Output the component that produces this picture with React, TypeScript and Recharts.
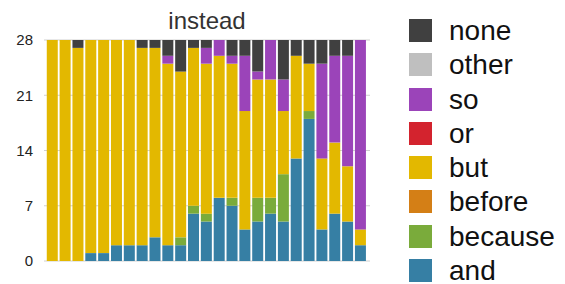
import { BarChart, Bar, XAxis, YAxis, CartesianGrid } from "recharts";

const categories = Array.from({ length: 25 }, (_, i) => `${i + 1}`);

const andVals = [0, 0, 0, 1, 1, 2, 2, 2, 3, 2, 2, 6, 5, 8, 7, 4, 5, 6, 5, 13, 18, 4, 6, 5, 2];
const becauseVals = [0, 0, 0, 0, 0, 0, 0, 0, 0, 0, 1, 1, 1, 0, 1, 0, 3, 2, 6, 0, 1, 0, 0, 0, 0];
const beforeVals = [0, 0, 0, 0, 0, 0, 0, 0, 0, 0, 0, 0, 0, 0, 0, 0, 0, 0, 0, 0, 0, 0, 0, 0, 0];
const butVals = [28, 28, 27, 27, 27, 26, 26, 25, 24, 23, 21, 20, 19, 18, 17, 15, 15, 15, 8, 13, 6, 9, 9, 7, 2];
const orVals = [0, 0, 0, 0, 0, 0, 0, 0, 0, 0, 0, 0, 0, 0, 0, 0, 0, 0, 0, 0, 0, 0, 0, 0, 0];
const soVals = [0, 0, 0, 0, 0, 0, 0, 0, 0, 1, 0, 0, 2, 2, 1, 7, 1, 5, 4, 0, 0, 12, 11, 14, 24];
const otherVals = [0, 0, 0, 0, 0, 0, 0, 0, 0, 0, 0, 0, 0, 0, 0, 0, 0, 0, 0, 0, 0, 0, 0, 0, 0];
const noneVals = [0, 0, 1, 0, 0, 0, 0, 1, 1, 2, 4, 1, 1, 0, 2, 2, 4, 0, 5, 2, 3, 3, 2, 2, 0];

const yTicks = [0, 7, 14, 21, 28];

// bottom to top of each stack
const series = [
  { key: "and", color: "#367fa4", values: andVals },
  { key: "because", color: "#7aab3b", values: becauseVals },
  { key: "before", color: "#d47f16", values: beforeVals },
  { key: "but", color: "#e3b800", values: butVals },
  { key: "or", color: "#d3232e", values: orVals },
  { key: "so", color: "#9b44b9", values: soVals },
  { key: "other", color: "#bfbfbf", values: otherVals },
  { key: "none", color: "#404040", values: noneVals },
];

const data = categories.map((name, i) => {
  const row: Record<string, string | number> = { name };
  series.forEach((s) => (row[s.key] = s.values[i]));
  return row;
});

const font = "'Liberation Sans', Arial, Helvetica, sans-serif";

function LegendBox() {
  const items = [...series].reverse();
  return (
    <div style={{ position: "absolute", left: 409, top: 19, fontFamily: font }}>
      {items.map((s) => (
        <div key={s.key} style={{ display: "flex", height: 34.3 }}>
          <div style={{ width: 23, height: 23, background: s.color, marginRight: 17 }} />
          <span style={{ fontSize: 28, color: "#111", lineHeight: "24px" }}>{s.key}</span>
        </div>
      ))}
    </div>
  );
}

export default function App() {
  return (
    <div style={{ position: "absolute", left: 0, top: 0, width: 565, height: 284, background: "#fff", overflow: "hidden" }}>
      <div
        style={{
          position: "absolute",
          left: 44,
          width: 326,
          top: 7,
          textAlign: "center",
          fontFamily: font,
          fontSize: 24,
          color: "#333",
        }}
      >
        instead
      </div>
      <BarChart
        width={565}
        height={284}
        data={data}
        margin={{ top: 40, right: 195, bottom: 23, left: 0 }}
        barCategoryGap="6%"
      >
        <CartesianGrid vertical={false} stroke="#d0d0d0" />
        <XAxis
          dataKey="name"
          tick={false}
          tickLine={false}
          height={0}
          padding={{ left: 2, right: 3 }}
          axisLine={{ stroke: "#333", strokeWidth: 1.5 }}
        />
        <YAxis
          width={44}
          domain={[0, 28]}
          ticks={yTicks}
          axisLine={false}
          tickLine={false}
          tickMargin={5}
          tick={{ fontSize: 15, fill: "#222", fontFamily: font }}
        />
        {series.map((s) => (
          <Bar key={s.key} dataKey={s.key} stackId="a" fill={s.color} isAnimationActive={false} />
        ))}
      </BarChart>
      <LegendBox />
    </div>
  );
}
